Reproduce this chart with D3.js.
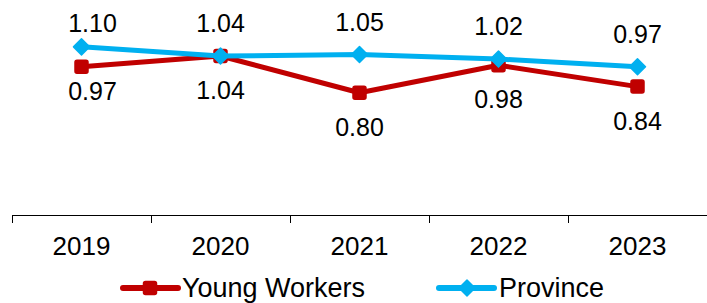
<!DOCTYPE html>
<html>
<head>
<meta charset="utf-8">
<script src="https://cdn.jsdelivr.net/npm/d3@7"></script>
<style>
  body { margin: 0; background: #fff; }
  text { font-family: "Liberation Sans", Arial, sans-serif; fill: #000; }
</style>
</head>
<body>
<div id="chart"></div>
<script>
// data
var years = ["2019", "2020", "2021", "2022", "2023"];
var youngWorkers = [0.97, 1.04, 0.80, 0.98, 0.84];
var province = [1.10, 1.04, 1.05, 1.02, 0.97];
var seriesNames = ["Young Workers", "Province"];

// label nudges (px) - first category labels were moved by hand in the original
var labelNudgeX = [11, 0, 0, 0, 0];
var youngNudgeY = [-10, 0, 0, 0, 0];
var provNudgeY = [9, 0, 0, 0, 0];

var W = 707, H = 303;
var red = "#C00000", blue = "#00B0F0";

var svg = d3.select("#chart").append("svg")
    .attr("width", W)
    .attr("height", H);

var x = d3.scaleBand().domain(years).range([12, 707]);
var y = d3.scaleLinear().domain([0, 1.4]).range([215, 1]);
var cx = function (d, i) { return x(years[i]) + x.bandwidth() / 2; };

// x axis
var xAxis = d3.axisBottom(x).tickSize(0).tickPadding(0);
var gx = svg.append("g")
    .attr("transform", "translate(0,215)")
    .call(xAxis);
gx.select(".domain").attr("stroke", "#000").attr("stroke-width", 1.2);
gx.selectAll(".tick text")
    .attr("y", 40)
    .attr("dy", 0)
    .style("font-size", "26px")
    .style("font-family", "'Liberation Sans', Arial, sans-serif");

// boundary ticks between categories
var bounds = years.map(function (d) { return x(d); }).concat([x.range()[1]]);
gx.selectAll(".bound")
    .data(bounds)
    .enter().append("line")
    .attr("class", "bound")
    .attr("x1", function (d) { return Math.round(d) + 0.5; })
    .attr("x2", function (d) { return Math.round(d) + 0.5; })
    .attr("y1", 0)
    .attr("y2", 8)
    .attr("stroke", "#000")
    .attr("stroke-width", 1);

var line = d3.line()
    .x(cx)
    .y(function (d) { return y(d); });

function squareMark(g, px, py, s) {
    g.append("rect")
        .attr("x", px - s / 2)
        .attr("y", py - s / 2)
        .attr("width", s)
        .attr("height", s)
        .attr("rx", 2)
        .attr("fill", red)
        .attr("stroke", red)
        .attr("stroke-width", 1.5);
}

function diamondMark(g, px, py, r) {
    g.append("path")
        .attr("d", "M" + px + "," + (py - r) + "L" + (px + r) + "," + py +
            "L" + px + "," + (py + r) + "L" + (px - r) + "," + py + "Z")
        .attr("fill", blue)
        .attr("stroke", blue)
        .attr("stroke-width", 1.5)
        .attr("stroke-linejoin", "round");
}

// young workers series
svg.append("path")
    .datum(youngWorkers)
    .attr("d", line)
    .attr("fill", "none")
    .attr("stroke", red)
    .attr("stroke-width", 5)
    .attr("stroke-linejoin", "round");

var gRed = svg.append("g");
youngWorkers.forEach(function (d, i) {
    squareMark(gRed, cx(d, i), y(d), 13);
});

// province series
svg.append("path")
    .datum(province)
    .attr("d", line)
    .attr("fill", "none")
    .attr("stroke", blue)
    .attr("stroke-width", 5)
    .attr("stroke-linejoin", "round");

var gBlue = svg.append("g");
province.forEach(function (d, i) {
    diamondMark(gBlue, cx(d, i), y(d), 8);
});

// data labels
svg.selectAll(".lblY")
    .data(youngWorkers)
    .enter().append("text")
    .attr("class", "lblY")
    .attr("x", function (d, i) { return cx(d, i) + labelNudgeX[i]; })
    .attr("y", function (d, i) { return y(d) + 43 + youngNudgeY[i]; })
    .attr("text-anchor", "middle")
    .style("font-size", "25px")
    .text(function (d) { return d.toFixed(2); });

svg.selectAll(".lblP")
    .data(province)
    .enter().append("text")
    .attr("class", "lblP")
    .attr("x", function (d, i) { return cx(d, i) + labelNudgeX[i]; })
    .attr("y", function (d, i) { return y(d) - 24 + provNudgeY[i]; })
    .attr("text-anchor", "middle")
    .style("font-size", "25px")
    .text(function (d) { return d.toFixed(2); });

// legend
var legendX = [123, 439];
var legend = svg.selectAll(".legend")
    .data(seriesNames)
    .enter().append("g")
    .attr("class", "legend")
    .attr("transform", function (d, i) { return "translate(" + legendX[i] + ",288)"; });

legend.append("line")
    .attr("x1", 0)
    .attr("x2", 55)
    .attr("y1", 0)
    .attr("y2", 0)
    .attr("stroke", function (d, i) { return i === 0 ? red : blue; })
    .attr("stroke-width", 6)
    .attr("stroke-linecap", "round");

legend.each(function (d, i) {
    if (i === 0) squareMark(d3.select(this), 27, 0, 13);
    else diamondMark(d3.select(this), 28, 0, 8);
});

legend.append("text")
    .attr("x", function (d, i) { return i === 0 ? 59 : 60; })
    .attr("y", 9)
    .style("font-size", "27px")
    .text(function (d) { return d; });
</script>
</body>
</html>
